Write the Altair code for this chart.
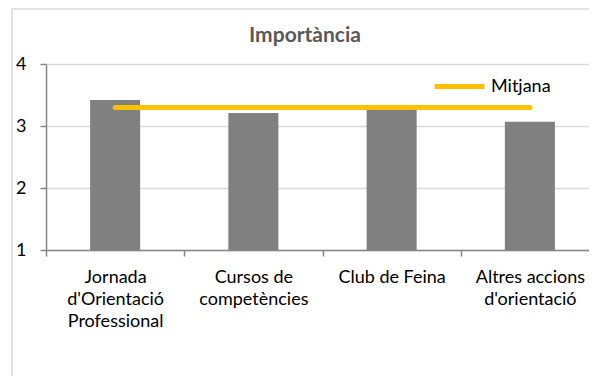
import altair as alt
import pandas as pd

# ---- data ----
categories = ["Jornada|d'Orientació|Professional", "Cursos de|competències", "Club de Feina", "Altres accions|d'orientació"]
importancia = [3.42, 3.21, 3.27, 3.07]
mitjana = [3.3, 3.3, 3.3, 3.3]
serie_label = "Mitjana"
y_ticks = [1, 2, 3, 4]
title_text = "Importància"

df = pd.DataFrame({
    "cat": categories,
    "valor": importancia,
    "mitjana": mitjana,
    "serie": [serie_label] * len(categories),
})
title_df = pd.DataFrame({"t": [title_text]})
frame_df = pd.DataFrame({"k": [0]})

FONT = "Lato"
AXIS_COLOR = "#868686"

# the plot area continues past the right edge of the picture (cropped)
xscale = alt.Scale(domain=categories, paddingInner=0, paddingOuter=0, range=[0, 553])
yscale = alt.Scale(domain=[1, 4], nice=False)

x_axis = alt.Axis(
    title=None, labelAngle=0,
    labelExpr="isValid(datum.value) ? split(datum.value, '|') : ''",
    tickBand="extent", tickSize=6, tickColor=AXIS_COLOR, tickWidth=1.5,
    domainColor=AXIS_COLOR, domainWidth=1.5,
    labelFont=FONT, labelFontSize=18, labelColor="#000000",
    labelLineHeight=22, labelPadding=12, grid=False,
)
y_axis = alt.Axis(
    title=None, values=y_ticks, format="d",
    tickSize=6, tickColor=AXIS_COLOR, tickWidth=1.5,
    domainColor=AXIS_COLOR, domainWidth=1.5,
    labelFont=FONT, labelFontSize=18, labelColor="#000000", labelPadding=14,
    grid=True, gridColor="#d9d9d9", gridWidth=1.5,
)

frame = alt.Chart(frame_df).mark_rect(
    fill="transparent", stroke="#d9d9d9", strokeWidth=1.5
).encode(
    x=alt.value(-34), x2=alt.value(620), y=alt.value(-55), y2=alt.value(420)
)

title = alt.Chart(title_df).mark_text(
    font=FONT, fontSize=21, fontWeight="bold", color="#595959",
    align="center", baseline="alphabetic"
).encode(text="t:N", x=alt.value(259), y=alt.value(-22))

bars = alt.Chart(df).mark_bar(
    color="#808080", width=alt.RelativeBandSize(0.362)
).encode(
    x=alt.X("cat:N", scale=xscale, axis=x_axis, sort=categories),
    y=alt.Y("valor:Q", scale=yscale, axis=y_axis),
    y2=alt.datum(1),
)

line = alt.Chart(df).mark_line(strokeWidth=5, strokeCap="round").encode(
    x=alt.X("cat:N", scale=xscale, sort=categories),
    y=alt.Y("mitjana:Q", scale=yscale),
    color=alt.Color(
        "serie:N",
        scale=alt.Scale(domain=[serie_label], range=["#FFC000"]),
        legend=alt.Legend(
            title=None, orient="none", legendX=386, legendY=-5,
            symbolType="stroke", symbolSize=2500, symbolStrokeWidth=5,
            labelFont=FONT, labelFontSize=18, labelColor="#000000", labelOffset=4,
        ),
    ),
)

chart = alt.layer(frame, bars, line, title).properties(
    width=543, height=186,
    padding={"left": 38, "top": 56, "right": 0, "bottom": 126},
    autosize=alt.AutoSizeParams(type="none"),
    background="white",
).configure_view(stroke=None)

chart.save("out.html", embed_options={"renderer": "svg", "actions": False})
